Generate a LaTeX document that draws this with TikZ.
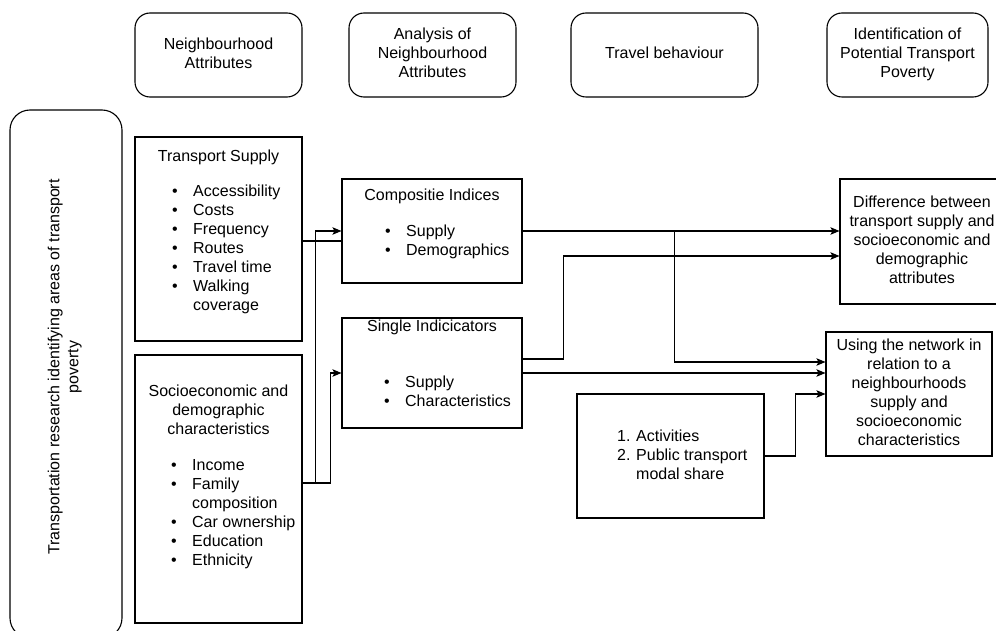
\documentclass[tikz,border=0pt]{standalone}
\usepackage{fontspec}
\setmainfont{Liberation Sans}
\usetikzlibrary{arrows.meta}
\tikzset{
  hdrbox/.style   = {draw,rounded corners=15pt,align=center,minimum height=84pt,inner sep=0pt,line width=1.1pt},
  sidebox/.style  = {draw,rounded corners=20pt,rotate=90,minimum width=528pt,minimum height=112pt,inner sep=0pt,line width=1.1pt},
  plainbox/.style = {draw,inner sep=0pt,line width=1.1pt},
  txt/.style      = {inner sep=0pt,align=center},
  listtxt/.style  = {inner sep=0pt,align=left,anchor=west},
  link/.style     = {line width=1.1pt},
  linkarr/.style  = {-{Stealth[length=9pt,width=7.5pt,inset=2pt]},line width=1.1pt}
}
\newcommand{\bul}{\strut\makebox[21pt][l]{\textbullet}}
\newcommand{\ind}{\strut\hspace*{21pt}}

\begin{document}
\begin{tikzpicture}[x=1pt,y=-1pt,font=\fontsize{16}{19}\selectfont]
  \useasboundingbox (0,0) rectangle (996,631);
  % column headers
  \node[hdrbox,minimum width=167pt] (hdrNbh) at (218.5,55) {\strut Neighbourhood\\\strut Attributes};
  \node[hdrbox,minimum width=167pt] (hdrAna) at (432.5,55) {\strut Analysis of\\\strut Neighbourhood\\\strut Attributes};
  \node[hdrbox,minimum width=187pt] (hdrTrv) at (664.5,55) {\strut Travel behaviour};
  \node[hdrbox,minimum width=161pt] (hdrIdf) at (907.5,55) {\strut Identification of\\\strut Potential Transport\\\strut Poverty};
  % side label
  \node[sidebox] (side) at (66,374) {};
  \node[txt,rotate=90] (sideText) at (65,367) {\strut Transportation research identifying areas of transport\\\strut poverty};
  % neighbourhood attributes
  \node[plainbox,minimum width=167pt,minimum height=204pt] (supply) at (218.5,239) {};
  \node[txt] (supplyTitle) at (218.5,158) {\strut Transport Supply};
  \node[listtxt] (supplyList) at (172,250) {\bul Accessibility\\\bul Costs\\\bul Frequency\\\bul Routes\\\bul Travel time\\\bul Walking\\\ind coverage};
  \node[plainbox,minimum width=167pt,minimum height=268pt] (socio) at (218.5,489) {};
  \node[txt] (socioTitle) at (218.5,412) {\strut Socioeconomic and\\\strut demographic\\\strut characteristics};
  \node[listtxt] (socioList) at (171,514.5) {\bul Income\\\bul Family\\\ind composition\\\bul Car ownership\\\bul Education\\\bul Ethnicity};
  % analysis
  \node[plainbox,minimum width=180pt,minimum height=104pt] (comp) at (432,231) {};
  \node[txt] (compTitle) at (432,197) {\strut Compositie Indices};
  \node[listtxt] (compList) at (385,242.5) {\bul Supply\\\bul Demographics};
  \node[plainbox,minimum width=180pt,minimum height=110pt] (single) at (432,373) {};
  \node[txt] (singleTitle) at (432,328) {\strut Single Indicicators};
  \node[listtxt] (singleList) at (384,393) {\bul Supply\\\bul Characteristics};
  % travel behaviour
  \node[plainbox,minimum width=187pt,minimum height=124pt] (travel) at (670.5,456) {};
  \node[listtxt] (travelList) at (617,457) {\strut\makebox[19pt][l]{1.}Activities\\\strut\makebox[19pt][l]{2.}Public transport\\\strut\hspace*{19pt}modal share};
  % identification
  \node[plainbox,align=center,minimum width=164pt,minimum height=125pt] (diff) at (922,241.5) {\strut Difference between\\\strut transport supply and\\\strut socioeconomic and\\\strut demographic\\\strut attributes};
  \node[plainbox,align=center,minimum width=166pt,minimum height=124pt] (using) at (909,394) {\strut Using the network in\\\strut relation to a\\\strut neighbourhoods\\\strut supply and\\\strut socioeconomic\\\strut characteristics};
  % connectors
  \draw[link] ([yshift=-2pt]supply.east) -- ([yshift=-2pt]supply.east -| comp.west);
  \draw[linkarr] ([yshift=6pt]socio.east) -- ++(13,0) |- (comp.west);
  \draw[linkarr] ([yshift=6pt]socio.east) -- ++(28,0) |- (single.west);
  \draw[linkarr] (comp.east) -- (comp.east -| diff.west);
  \draw[linkarr] (comp.east) -- ++(152,0) |- ([yshift=32pt]using.west);
  \draw[linkarr] ([yshift=14pt]single.east) -- ++(41,0) |- ([yshift=-14.5pt]diff.west);
  \draw[linkarr] (single.east) -- (single.east -| using.west);
  \draw[linkarr] (travel.east) -- ++(31,0) |- (using.west);
\end{tikzpicture}
\end{document}
